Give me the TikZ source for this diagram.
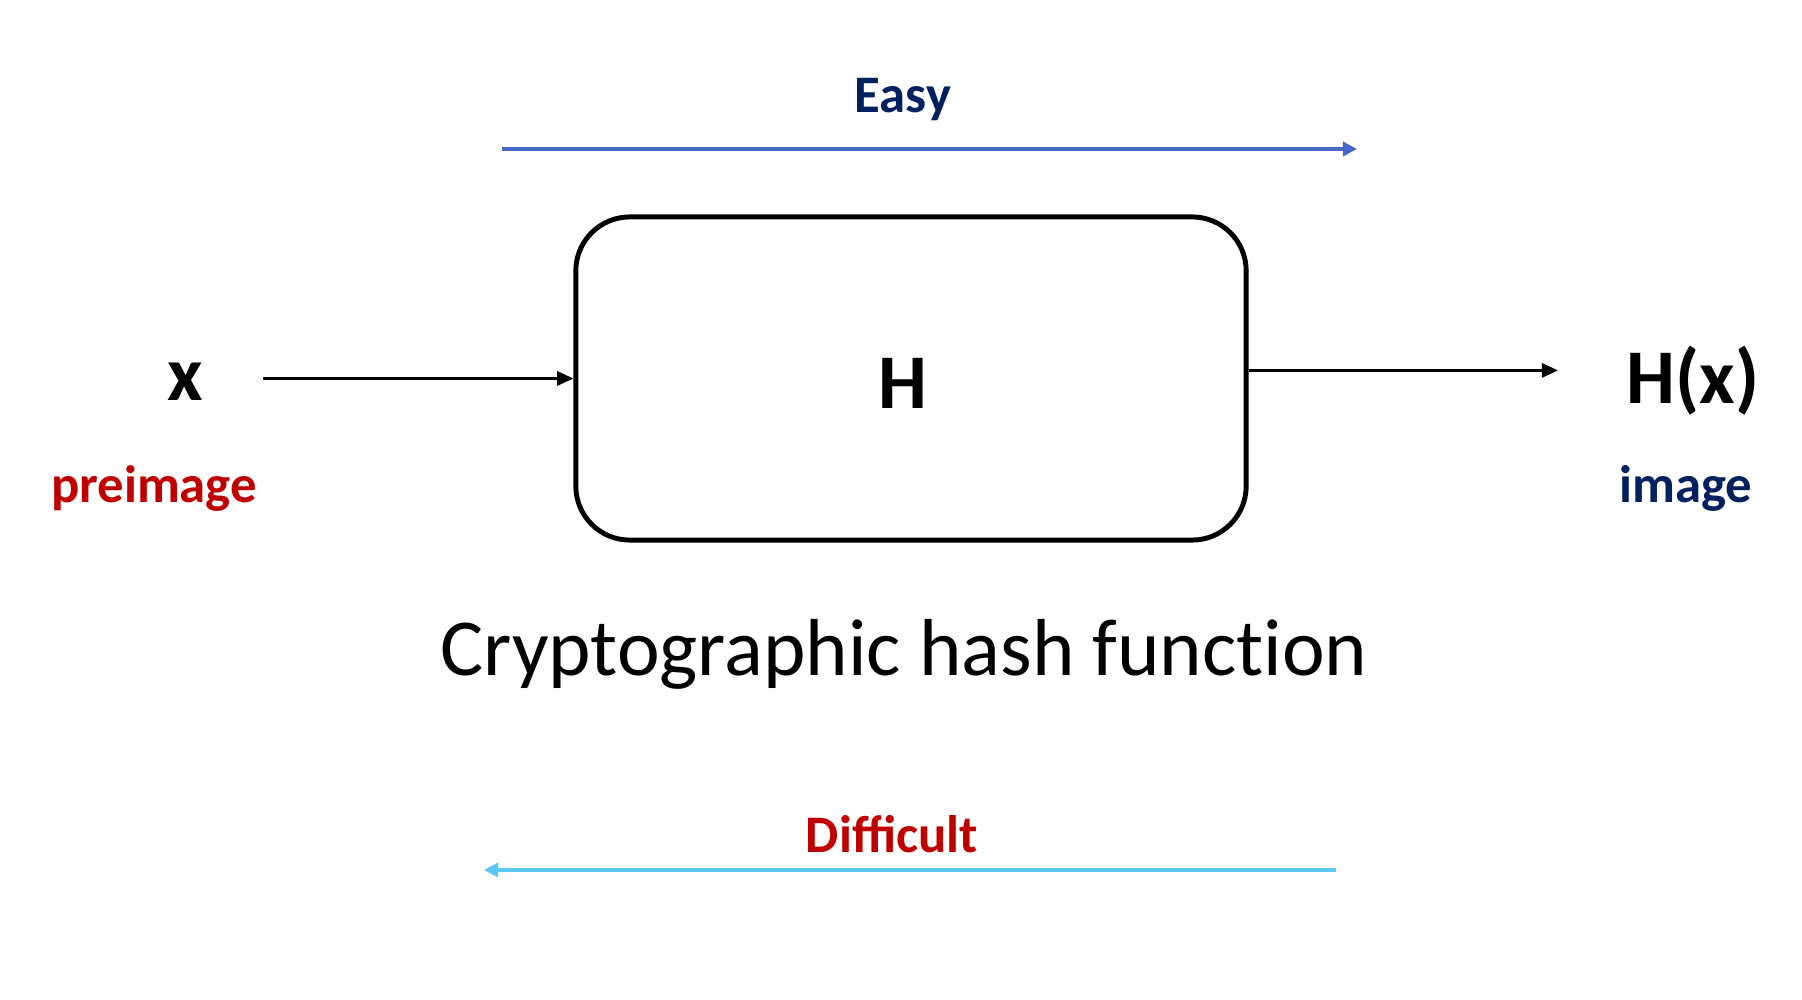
\documentclass[tikz,border=0pt]{standalone}
\usepackage{fontspec}
\setmainfont{Carlito}
\usetikzlibrary{arrows.meta}

\definecolor{navy}{HTML}{002060}
\definecolor{darkred}{HTML}{C00000}
\definecolor{easyblue}{HTML}{4A67C8}
\definecolor{hardblue}{HTML}{5BC8F2}

\tikzset{
  flow/.style={line width=0.8pt,-{Triangle[length=4.6pt,width=4pt]}},
  hashbox/.style={draw,line width=1.4pt,rounded corners=0.54cm,
    minimum width=6.7cm,minimum height=3.23cm},
  tag/.style={font=\fontsize{15}{18}\selectfont\bfseries}
}

\begin{document}
\begin{tikzpicture}[x=0.01cm,y=-0.01cm]
\useasboundingbox (0,0) rectangle (1802,1000);

\node[tag,text=navy] (easy) at (903,100)
{Easy};
\coordinate (easyL) at (502,149);
\coordinate (easyR) at (1357,149);
\draw[line width=1pt,easyblue,-{Triangle[length=4pt,width=4pt]}] (easyL) -- (easyR);

\node[hashbox] (hash) at (911,378.5) {};
\node[font=\fontsize{22}{26}\selectfont\bfseries] (hlabel) at (903,383)
{H};

\node[font=\fontsize{22}{26}\selectfont\bfseries] (in) at (185,382)
{x};
\node[tag,text=darkred] (pre) at (154,488)
{preimage};

\node[font=\fontsize{22}{26}\selectfont\bfseries] (out) at (1693,381)
{H(x)};
\node[tag,text=navy] (img) at (1686,488)
{image};

\coordinate (inA) at ([xshift=13.5pt]in.east);
\coordinate (outA) at ([xshift=-16pt]out.west);
\coordinate (hashOut) at ([yshift=2.3pt]hash.east);
\draw[flow] (hash.west -| inA) -- (hash.west);
\draw[flow] (hashOut) -- (hashOut -| outA);

\node[font=\fontsize{23}{28}\selectfont\addfontfeature{Ligatures=NoCommon}] (title) at (904,654)
{Cryptographic hash function};

\node[tag,text=darkred] (hard) at (892,834)
{Difficult};
\coordinate (hardR) at (1336,870);
\coordinate (hardL) at (484,870);
\draw[line width=0.9pt,hardblue,-{Triangle[length=4pt,width=4pt]}] (hardR) -- (hardL);

\end{tikzpicture}
\end{document}
